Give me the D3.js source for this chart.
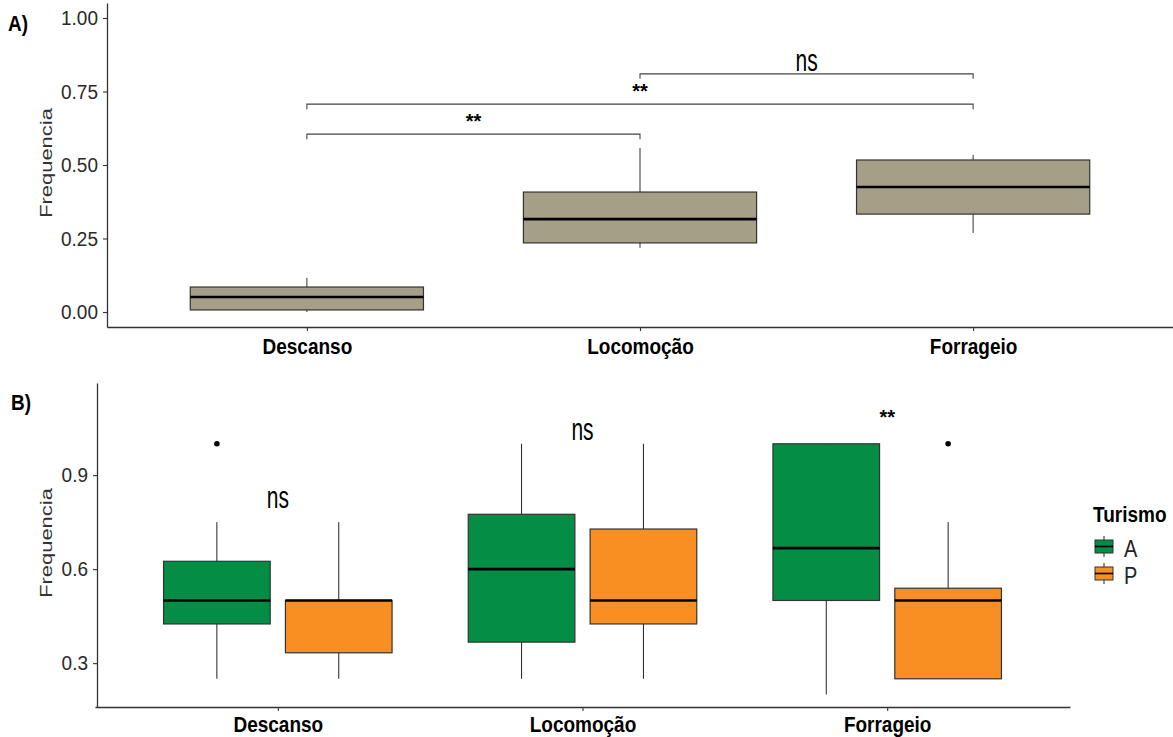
<!DOCTYPE html>
<html>
<head>
<meta charset="utf-8">
<script src="https://cdn.jsdelivr.net/npm/d3@7"></script>
<style>
  body { margin: 0; background: #fff; }
  text { font-family: "Liberation Sans", Arial, sans-serif; }
</style>
</head>
<body>
<svg width="1173" height="737"></svg>
<script>
// categories and box summaries
const categories = ["Descanso", "Locomoção", "Forrageio"];

// panel A
const aLower  = [0.0,   0.218, 0.269];
const aQ1     = [0.007, 0.235, 0.333];
const aMedian = [0.051, 0.316, 0.425];
const aQ3     = [0.085, 0.408, 0.517];
const aUpper  = [0.116, 0.558, 0.534];
const aTicks  = [0, 0.25, 0.5, 0.75, 1];

// pairwise comparisons in A
const cmpFrom  = ["Descanso", "Descanso", "Locomoção"];
const cmpTo    = ["Locomoção", "Forrageio", "Forrageio"];
const cmpY     = [0.605, 0.707, 0.81];
const cmpLabel = ["**", "**", "ns"];

// panel B, grouped by Turismo
const groups = ["A", "P"];
const bLower  = { A: [0.25, 0.25, 0.2],   P: [0.25, 0.25, 0.25] };
const bQ1     = { A: [0.425, 0.367, 0.5], P: [0.333, 0.425, 0.25] };
const bMedian = { A: [0.5, 0.6, 0.667],   P: [0.5, 0.5, 0.5] };
const bQ3     = { A: [0.625, 0.775, 1.0], P: [0.5, 0.728, 0.539] };
const bUpper  = { A: [0.75, 1.0, 1.0],    P: [0.75, 1.0, 0.75] };
const bOut    = { A: [[1.0], [], []],     P: [[], [], [1.0]] };
const bTicks  = [0.3, 0.6, 0.9];
const bLabel  = ["ns", "ns", "**"];
const bLabelY = [0.795, 1.012, 1.063];

const colorB = d3.scaleOrdinal().domain(groups).range(["#048d45", "#f98f22"]);
const fillA = "#a69f87";

const svg = d3.select("svg");

// text with the vertical stretch seen in the picture
function stext(g, x, y, txt, size, sy, opts = {}) {
  return g.append("text")
    .attr("transform", `translate(${x},${y}) scale(1,${sy})`)
    .attr("font-size", size)
    .attr("font-weight", opts.bold ? "bold" : null)
    .attr("text-anchor", opts.anchor || "start")
    .attr("fill", opts.fill || "#000")
    .text(txt);
}

function styleAxis(g) {
  g.select(".domain").attr("stroke", "#333").attr("stroke-width", 1.3);
  g.selectAll(".tick line").attr("stroke", "#333").attr("stroke-width", 1.1);
}

// ---------- panel A ----------
const xA = d3.scalePoint().domain(categories).range([107, 1173]).padding(0.6);
const yA = d3.scaleLinear().domain([-0.051, 1.051]).range([327, 3]);
const bwA = xA.step() * 0.7;

const gA = svg.append("g");

gA.append("g")
  .attr("transform", "translate(107,0)")
  .call(d3.axisLeft(yA).tickValues(aTicks).tickFormat(d3.format(".2f")).tickSize(4).tickSizeOuter(0).tickPadding(5))
  .call(styleAxis)
  .call(g => g.selectAll(".tick text").attr("font-size", 19).attr("fill", "#2a2a2a")
    .attr("font-family", "Liberation Sans, Arial, sans-serif").attr("transform", "scale(1,1.1)"));

gA.append("g")
  .attr("transform", "translate(0,327)")
  .call(d3.axisBottom(xA).tickSize(4).tickSizeOuter(0))
  .call(styleAxis)
  .call(g => g.selectAll(".tick text").attr("font-size", 19).attr("font-weight", "bold").attr("fill", "#000")
    .attr("font-family", "Liberation Sans, Arial, sans-serif")
    .attr("dy", 0).attr("y", 27 / 1.2).attr("transform", "scale(1,1.2)"));

const boxA = gA.append("g").selectAll("g").data(categories).join("g");
boxA.append("line")
  .attr("x1", d => xA(d)).attr("x2", d => xA(d))
  .attr("y1", (d, i) => yA(aLower[i])).attr("y2", (d, i) => yA(aUpper[i]))
  .attr("stroke", "#333").attr("stroke-width", 1);
boxA.append("rect")
  .attr("x", d => xA(d) - bwA / 2).attr("width", bwA)
  .attr("y", (d, i) => yA(aQ3[i])).attr("height", (d, i) => yA(aQ1[i]) - yA(aQ3[i]))
  .attr("fill", fillA).attr("stroke", "#333").attr("stroke-width", 1.2);
boxA.append("line")
  .attr("x1", d => xA(d) - bwA / 2).attr("x2", d => xA(d) + bwA / 2)
  .attr("y1", (d, i) => yA(aMedian[i])).attr("y2", (d, i) => yA(aMedian[i]))
  .attr("stroke", "#000").attr("stroke-width", 2.6);

// brackets
cmpFrom.forEach((f, i) => {
  const x1 = xA(f), x2 = xA(cmpTo[i]), y = yA(cmpY[i]);
  gA.append("path")
    .attr("d", `M${x1},${y + 5}V${y}H${x2}V${y + 5}`)
    .attr("fill", "none").attr("stroke", "#444").attr("stroke-width", 1.1);
  const ns = cmpLabel[i] === "ns";
  stext(gA, (x1 + x2) / 2, y - (ns ? 3 : 6), cmpLabel[i], ns ? 21 : 20, ns ? 1.5 : 1,
    { anchor: "middle", bold: !ns });
});

gA.append("text")
  .attr("transform", "translate(52,163) rotate(-90) scale(1.29,1)")
  .attr("text-anchor", "middle").attr("font-size", 17).attr("fill", "#333")
  .text("Frequencia");
stext(gA, 8, 31, "A)", 19, 1.2, { bold: true });

// ---------- panel B ----------
const xB = d3.scalePoint().domain(categories).range([95, 1070]).padding(0.6);
const dodge = d3.scaleBand().domain(groups).range([-0.4 * xB.step(), 0.4 * xB.step()]);
const bwB = dodge.bandwidth() * 0.875;
const yB = d3.scaleLinear().domain([0.16, 1.194]).range([707, 383]);

const gB = svg.append("g");

gB.append("g")
  .attr("transform", "translate(97,0)")
  .call(d3.axisLeft(yB).tickValues(bTicks).tickFormat(d3.format(".1f")).tickSize(4).tickSizeOuter(0).tickPadding(5))
  .call(styleAxis)
  .call(g => g.selectAll(".tick text").attr("font-size", 19).attr("fill", "#2a2a2a")
    .attr("font-family", "Liberation Sans, Arial, sans-serif").attr("transform", "scale(1,1.1)"));

gB.append("g")
  .attr("transform", "translate(0,707)")
  .call(d3.axisBottom(xB).tickSize(4).tickSizeOuter(0))
  .call(styleAxis)
  .call(g => g.selectAll(".tick text").attr("font-size", 19).attr("font-weight", "bold").attr("fill", "#000")
    .attr("font-family", "Liberation Sans, Arial, sans-serif")
    .attr("dy", 0).attr("y", 25 / 1.2).attr("transform", "scale(1,1.2)"));

groups.forEach(grp => {
  const gg = gB.append("g").selectAll("g").data(categories).join("g");
  const cx = d => xB(d) + dodge(grp) + dodge.bandwidth() / 2;
  gg.append("line")
    .attr("x1", cx).attr("x2", cx)
    .attr("y1", (d, i) => yB(bLower[grp][i])).attr("y2", (d, i) => yB(bUpper[grp][i]))
    .attr("stroke", "#222").attr("stroke-width", 1);
  gg.append("rect")
    .attr("x", d => cx(d) - bwB / 2).attr("width", bwB)
    .attr("y", (d, i) => yB(bQ3[grp][i])).attr("height", (d, i) => yB(bQ1[grp][i]) - yB(bQ3[grp][i]))
    .attr("fill", colorB(grp)).attr("stroke", "#333").attr("stroke-width", 1.2);
  gg.append("line")
    .attr("x1", d => cx(d) - bwB / 2).attr("x2", d => cx(d) + bwB / 2)
    .attr("y1", (d, i) => yB(bMedian[grp][i])).attr("y2", (d, i) => yB(bMedian[grp][i]))
    .attr("stroke", "#000").attr("stroke-width", 2.6);
  gg.selectAll("circle").data((d, i) => bOut[grp][i].map(v => ({ c: d, v }))).join("circle")
    .attr("cx", o => cx(o.c)).attr("cy", o => yB(o.v)).attr("r", 2.8).attr("fill", "#000");
});

categories.forEach((c, i) => {
  const ns = bLabel[i] === "ns";
  stext(gB, xB(c), yB(bLabelY[i]), bLabel[i], ns ? 21 : 20, ns ? 1.5 : 1,
    { anchor: "middle", bold: !ns });
});

gB.append("text")
  .attr("transform", "translate(52,543) rotate(-90) scale(1.29,1)")
  .attr("text-anchor", "middle").attr("font-size", 17).attr("fill", "#333")
  .text("Frequencia");
stext(gB, 11, 410, "B)", 19, 1.2, { bold: true });

// legend
const lg = svg.append("g");
stext(lg, 1093, 522, "Turismo", 19, 1.2, { bold: true });
groups.forEach((grp, i) => {
  const top = 540 + i * 27;
  lg.append("line").attr("x1", 1104).attr("x2", 1104).attr("y1", top - 4).attr("y2", top + 17)
    .attr("stroke", "#222");
  lg.append("rect").attr("x", 1095).attr("y", top).attr("width", 18).attr("height", 13)
    .attr("fill", colorB(grp)).attr("stroke", "#333").attr("stroke-width", 1);
  lg.append("line").attr("x1", 1095).attr("x2", 1113).attr("y1", top + 6.5).attr("y2", top + 6.5)
    .attr("stroke", "#000").attr("stroke-width", 1.6);
  stext(lg, 1124, top + 17, grp, 20, 1.2, { fill: "#222" });
});
</script>
</body>
</html>
